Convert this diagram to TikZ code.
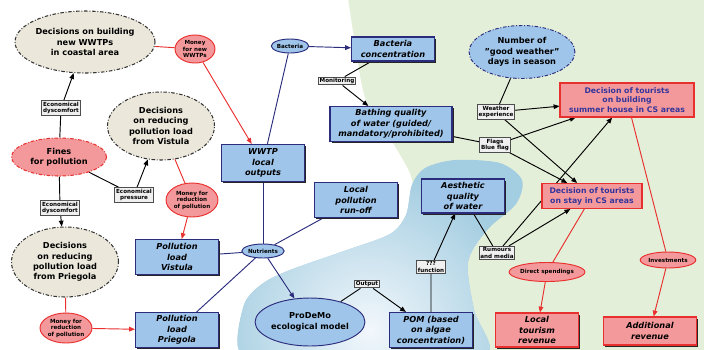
\documentclass[tikz,border=0pt]{standalone}
\usepackage{fontspec}
\setmainfont{DejaVu Sans}
\usetikzlibrary{arrows.meta, shapes.geometric, shadows}
\definecolor{bgGreen}{HTML}{E4EFD9}
\definecolor{waterDark}{HTML}{A3CDE0}
\definecolor{waterLight}{HTML}{F2F7FC}
\definecolor{boxBlue}{HTML}{9FC5EA}
\definecolor{navy}{HTML}{2B2C7C}
\definecolor{beige}{HTML}{EBE8DB}
\definecolor{pinkRed}{HTML}{F4999B}
\definecolor{lineRed}{HTML}{E8302E}
\definecolor{textNavy}{HTML}{34359C}
\definecolor{labelGray}{HTML}{4D4D4D}
\newcommand{\fMain}{\fontsize{7}{8.9}\selectfont\bfseries}
\newcommand{\fTiny}{\fontsize{4.8}{5.6}\selectfont\bfseries}
\pgfdeclarelayer{bg}
\pgfdeclarelayer{edges}
\pgfsetlayers{bg,edges,main}
\tikzset{
  lineK/.style={black, line width=0.8pt},
  lineN/.style={navy, line width=0.8pt},
  lineR/.style={lineRed, line width=0.8pt},
  arrowK/.style={-{Triangle[length=5pt, width=4pt]}, lineK},
  arrowN/.style={-{Triangle[length=5pt, width=4pt]}, lineN},
  arrowR/.style={-{Triangle[length=5pt, width=4pt]}, lineR},
  dashdot/.style={dash pattern=on 3pt off 1.5pt on 0.8pt off 1.5pt},
  decE/.style={ellipse, draw=black!80, dashdot, line width=0.9pt, fill=beige,
               align=center, font=\fMain, inner sep=0pt},
  finesE/.style={ellipse, draw=lineRed, dashdot, line width=0.9pt, fill=pinkRed,
                 align=center, font=\fMain, inner sep=0pt},
  moneyE/.style={ellipse, draw=lineRed, line width=0.8pt, fill=pinkRed,
                 align=center, font=\fTiny, inner sep=0pt},
  blueE/.style={ellipse, draw=navy, line width=0.8pt, fill=boxBlue,
                align=center, font=\fTiny, inner sep=0pt},
  blueBox/.style={rectangle, draw=navy, line width=0.9pt, fill=boxBlue,
                  align=center, font=\fMain\itshape, inner sep=1pt,
                  minimum width=2.49cm, minimum height=1.05cm,
                  general shadow={fill=black!85, shadow xshift=1.4pt, shadow yshift=-1.4pt}},
  redBox/.style={rectangle, draw=lineRed, line width=0.9pt, fill=pinkRed,
                 align=center, font=\fMain\itshape, inner sep=1pt,
                 minimum width=2.49cm, minimum height=1.02cm,
                 general shadow={fill=black!85, shadow xshift=1.4pt, shadow yshift=-1.4pt}},
  tourBox/.style={rectangle, draw=lineRed, line width=0.9pt, fill=pinkRed,
                  align=center, text=textNavy, font=\fontsize{6.6}{8.4}\selectfont\bfseries,
                  inner sep=1pt},
  lbl/.style={rectangle, draw=labelGray, line width=0.9pt, fill=white!94!black,
              align=center, font=\fTiny, inner sep=1pt},
}

\begin{document}
\begin{tikzpicture}[x=0.3mm, y=-0.3mm]
  \useasboundingbox (0,0) rectangle (704,349);

  % background: coast and water
  \begin{pgfonlayer}{bg}
    \fill[bgGreen] plot[smooth] coordinates {(414,205) (411,176) (393,143) (366,100) (356,50) (348,-2)}
      -- (706,-2) -- (706,351) -- (430,351) -- cycle;
    \begin{scope}
      \clip plot[smooth cycle] coordinates {(240,352) (244,305) (262,284) (290,270)
        (347,250) (390,234) (406,215) (412,185) (425,168) (455,160) (500,163)
        (522,180) (516,204) (487,230) (468,262) (474,310) (486,356) (380,362) (290,362)};
      \fill[waterDark] (230,150) rectangle (530,360);
      \shade[inner color=waterLight, outer color=waterDark] (370,330) circle (4.8cm);
    \end{scope}
  \end{pgfonlayer}

  % decisions and money
  \node[decE, minimum width=3.75cm, minimum height=1.86cm] (build) at (85,42)
    {Decisions on building\\new WWTPs\\in coastal area};
  \node[moneyE, minimum width=1.2cm, minimum height=0.84cm] (mnyNew) at (195,49)
    {Money\\for new\\WWTPs};
  \node[decE, minimum width=3.21cm, minimum height=2.04cm] (decVist) at (161,126)
    {Decisions\\on reducing\\pollution load\\from Vistula};
  \node[finesE, minimum width=2.85cm, minimum height=1.14cm] (fines) at (59,157)
    {Fines\\for pollution};
  \node[lbl] (ecoDys1) at (61,108) {Economical\\dyscomfort};
  \node[lbl] (ecoPress) at (134,195) {Economical\\pressure};
  \node[lbl] (ecoDys2) at (60,208) {Economical\\dyscomfort};
  \node[decE, minimum width=3.21cm, minimum height=2.1cm] (decPrieg) at (65,262)
    {Decisions\\on reducing\\pollution load\\from Priegola};
  \node[moneyE, minimum width=1.56cm, minimum height=1.02cm] (mnyVist) at (192,200)
    {Money for\\reduction\\of pollution};
  \node[moneyE, minimum width=1.56cm, minimum height=0.9cm] (mnyPrieg) at (66,328)
    {Money for\\reduction\\of pollution};

  % pollution and water
  \node[blueBox] (loadVist) at (177,257) {Pollution\\load\\Vistula};
  \node[blueBox] (loadPrieg) at (177,330) {Pollution\\load\\Priegola};
  \node[blueBox, minimum height=1.11cm] (wwtp) at (263,163) {WWTP\\local\\outputs};
  \node[blueE, minimum width=0.99cm, minimum height=0.42cm] (bact) at (290,46) {Bacteria};
  \node[blueBox, minimum height=0.72cm] (bactConc) at (393,49) {Bacteria\\concentration};
  \node[lbl] (monit) at (337,81) {Monitoring};
  \node[blueBox, minimum width=3.66cm] (bathing) at (391,124)
    {Bathing quality\\of water (guided/\\mandatory/prohibited)};
  \node[blueBox] (runoff) at (356,200) {Local\\pollution\\run-off};
  \node[blueE, minimum width=1.11cm, minimum height=0.42cm] (nutr) at (263,251) {Nutrients};
  \node[blueE, font=\fMain, minimum width=2.91cm, minimum height=1.44cm] (prodemo) at (310,322)
    {ProDeMo\\ecological model};
  \node[lbl] (outp) at (367,284) {Output};
  \node[blueBox] (pom) at (431,330) {POM (based\\on algae\\concentration)};
  \node[lbl] (func) at (431,267) {???\\function};
  \node[blueBox, minimum height=1.02cm] (aesth) at (463,196) {Aesthetic\\quality\\of water};

  % tourism
  \node[blueE, dashdot, font=\fMain, minimum width=3.03cm, minimum height=1.59cm] (goodW) at (522,52)
    {Number of\\"good weather"\\days in season};
  \node[lbl] (weather) at (496,112) {Weather\\experience};
  \node[lbl] (flags) at (495,145) {Flags\\Blue flag};
  \node[tourBox, minimum width=4.02cm, minimum height=1.02cm] (house) at (627,100)
    {Decision of tourists\\on building\\summer house in CS areas};
  \node[tourBox, minimum width=3cm, minimum height=0.75cm] (stay) at (592,196)
    {Decision of tourists\\on stay in CS areas};
  \node[lbl] (rumours) at (497,253) {Rumours\\and media};
  \node[moneyE, minimum width=1.8cm, minimum height=0.57cm] (direct) at (547,272) {Direct spendings};
  \node[moneyE, minimum width=1.41cm, minimum height=0.48cm] (invest) at (668,260) {Investments};
  \node[redBox] (localRev) at (537,330) {Local\\tourism\\revenue};
  \node[redBox, minimum width=2.79cm, minimum height=0.84cm] (addRev) at (650,331) {Additional\\revenue};

  \begin{pgfonlayer}{edges}
    \draw[lineR] (build) -- (mnyNew);
    \draw[arrowR] (mnyNew) -- (wwtp);
    \draw[arrowK] (fines) -- (ecoDys1) -- (build);
    \draw[arrowK] (fines) -- (ecoPress) -- (decVist);
    \draw[arrowK] (fines) -- (ecoDys2) -- (decPrieg);
    \draw[lineR] (decVist) -- (mnyVist);
    \draw[arrowR] (mnyVist) -- (loadVist);
    \draw[lineR] (decPrieg) -- (mnyPrieg);
    \draw[arrowR] (mnyPrieg) -- (loadPrieg);
    \draw[arrowN] (bact) -- (bactConc);
    \draw[lineN] (wwtp) -- (bact);
    \draw[lineN] (wwtp) -- (nutr);
    \draw[lineN] (loadVist) -- (nutr);
    \draw[lineN] (loadPrieg) -- (nutr);
    \draw[lineN] (runoff) -- (nutr);
    \draw[arrowN] (nutr) -- (prodemo);
    \draw[arrowK] (bactConc) -- (monit) -- (bathing);
    \draw[arrowK] (prodemo) -- (outp) -- (pom);
    \draw[arrowK] (pom) -- (func) -- (aesth);
    \draw[lineK] (aesth) -- (rumours);
    \draw[arrowK] (rumours) -- (stay);
    \draw[arrowK] (rumours) -- (house);
    \draw[lineK] (bathing) -- (flags);
    \draw[arrowK] (flags) -- (house);
    \draw[arrowK] (flags) -- (stay);
    \draw[lineK] (goodW) -- (weather);
    \draw[arrowK] (weather) -- (house);
    \draw[arrowK] (weather) -- (stay);
    \draw[lineR] (house) -- (invest);
    \draw[arrowR] (invest) -- (addRev);
    \draw[lineR] (stay) -- (direct);
    \draw[arrowR] (direct) -- (localRev);
  \end{pgfonlayer}
\end{tikzpicture}
\end{document}
